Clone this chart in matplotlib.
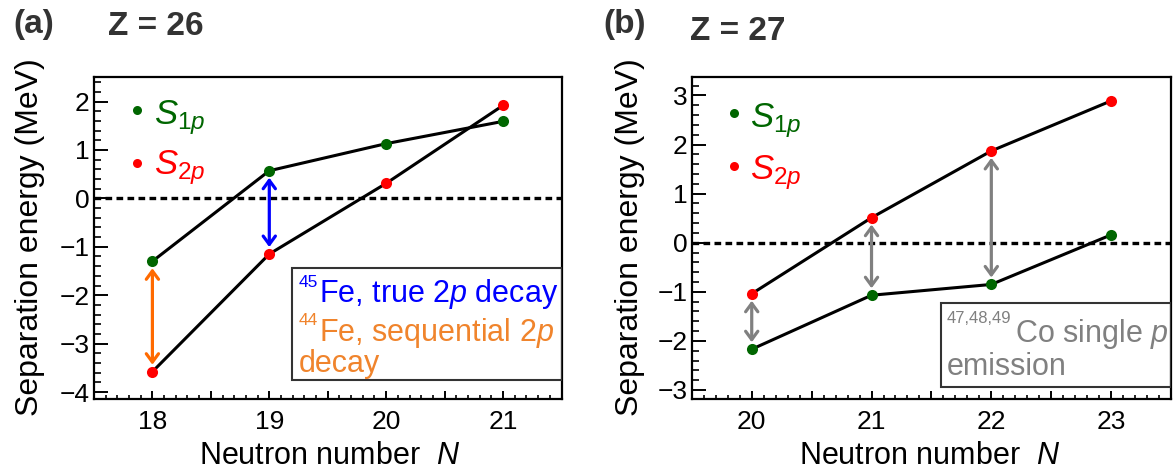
import matplotlib
matplotlib.use("Agg")
import matplotlib.pyplot as plt
from matplotlib.patches import Rectangle
from matplotlib.ticker import MultipleLocator, FuncFormatter

plt.rcParams['font.family'] = ['Liberation Sans', 'DejaVu Sans']
plt.rcParams['mathtext.fontset'] = 'custom'
plt.rcParams['mathtext.rm'] = 'Liberation Sans'
plt.rcParams['mathtext.it'] = 'Liberation Sans:italic'
plt.rcParams['mathtext.bf'] = 'Liberation Sans:bold'

# separation energies (MeV), Z = 26
N_fe = [18, 19, 20, 21]
s1p_fe = [-1.30, 0.57, 1.13, 1.59]
s2p_fe = [-3.58, -1.15, 0.31, 1.92]

# separation energies (MeV), Z = 27
N_co = [20, 21, 22, 23]
s1p_co = [-2.17, -1.07, -0.85, 0.16]
s2p_co = [-1.04, 0.51, 1.87, 2.89]

green = '#006600'
red = '#ff0000'
blue = '#0000ff'
orange_arrow = '#ff6a00'
orange_text = '#f0842c'
gray = '#808080'
dark = '#333333'

fig = plt.figure(figsize=(11.73, 4.71), dpi=100)
ax1 = fig.add_axes([0.0801, 0.1522, 0.3986, 0.6837])
ax2 = fig.add_axes([0.5898, 0.1522, 0.4085, 0.6837])


def style_axes(ax, xlim, ylim):
    ax.set_xlim(*xlim)
    ax.set_ylim(*ylim)
    for sp in ax.spines.values():
        sp.set_linewidth(1.6)
    ax.xaxis.set_major_locator(MultipleLocator(0.5))
    ax.xaxis.set_minor_locator(MultipleLocator(0.1))
    ax.yaxis.set_major_locator(MultipleLocator(1))
    ax.yaxis.set_minor_locator(MultipleLocator(0.2))
    ax.xaxis.set_major_formatter(FuncFormatter(
        lambda v, p: f'{v:.0f}' if abs(v - round(v)) < 1e-6 else ''))
    ax.tick_params(axis='x', which='major', direction='in', length=6, width=1.4,
                   labelsize=19, pad=7.5, top=False)
    ax.tick_params(axis='x', which='minor', direction='in', length=3, width=1.2, top=False)
    ax.tick_params(axis='y', which='major', direction='in', length=10, width=1.4,
                   labelsize=19, pad=3, right=False)
    ax.tick_params(axis='y', which='minor', direction='in', length=5, width=1.2, right=False)
    ax.axhline(0, color='black', lw=2.4, dashes=(2.0, 1.3), zorder=1)
    ax.set_ylabel('Separation energy (MeV)', fontsize=23)
    ax.set_xlabel('Neutron number  $N$', fontsize=22)


def draw_series(ax, N, s1p, s2p):
    ax.plot(N, s1p, color='black', lw=2.2, zorder=2)
    ax.plot(N, s2p, color='black', lw=2.2, zorder=2)
    ax.plot(N, s1p, 'o', color=green, ms=8, mec='none', zorder=4)
    ax.plot(N, s2p, 'o', color=red, ms=8, mec='none', zorder=4)


def double_arrow(ax, x, y0, y1, color):
    ax.annotate('', xy=(x, y1), xytext=(x, y0),
                arrowprops=dict(arrowstyle='<->,head_length=0.3,head_width=0.22',
                                color=color, lw=2.3, shrinkA=5, shrinkB=5,
                                mutation_scale=20),
                zorder=3)


def legend_marks(ax, xd, yg, yr, xt, bg, br):
    ax.plot([xd], [yg], 'o', color=green, ms=6.5, mec='none', transform=ax.transAxes,
            clip_on=False)
    ax.plot([xd], [yr], 'o', color=red, ms=6.5, mec='none', transform=ax.transAxes,
            clip_on=False)
    ax.text(xt, bg, '$S_{1p}$', color=green, fontsize=25, transform=ax.transAxes,
            va='baseline')
    ax.text(xt, br, '$S_{2p}$', color=red, fontsize=25, transform=ax.transAxes,
            va='baseline')


# ---- (a) Z = 26
style_axes(ax1, (17.5, 21.5), (-4.15, 2.5))
draw_series(ax1, N_fe, s1p_fe, s2p_fe)
double_arrow(ax1, N_fe[0], s2p_fe[0], s1p_fe[0], orange_arrow)
double_arrow(ax1, N_fe[1], s2p_fe[1], s1p_fe[1], blue)
legend_marks(ax1, 0.0913, 0.898, 0.735, 0.128, 0.853, 0.698)
ax1.yaxis.set_label_coords(-0.104, 0.505)
ax1.xaxis.set_label_coords(0.505, -0.128)

ax1.add_patch(Rectangle((0.4235, 0.06), 0.5765, 0.348, transform=ax1.transAxes,
                        fill=False, ec=dark, lw=1.5, zorder=5))
ax1.text(0.4385, 0.3497, '45', color=blue, fontsize=12.5, transform=ax1.transAxes,
         va='baseline', zorder=6)
ax1.text(0.481, 0.303, 'Fe, true 2$p$ decay', color=blue, fontsize=22,
         transform=ax1.transAxes, va='baseline', zorder=6)
ax1.text(0.4385, 0.231, '44', color=orange_text, fontsize=12.5, transform=ax1.transAxes,
         va='baseline', zorder=6)
ax1.text(0.481, 0.182, 'Fe, sequential 2$p$', color=orange_text, fontsize=22,
         transform=ax1.transAxes, va='baseline', zorder=6)
ax1.text(0.4385, 0.085, 'decay', color=orange_text, fontsize=22,
         transform=ax1.transAxes, va='baseline', zorder=6)

# ---- (b) Z = 27
style_axes(ax2, (19.5, 23.5), (-3.19, 3.37))
draw_series(ax2, N_co, s1p_co, s2p_co)
for n, a, b in zip(N_co[:3], s1p_co[:3], s2p_co[:3]):
    double_arrow(ax2, n, a, b, gray)
legend_marks(ax2, 0.0887, 0.888, 0.725, 0.122, 0.845, 0.684)
ax2.yaxis.set_label_coords(-0.098, 0.505)
ax2.xaxis.set_label_coords(0.497, -0.128)

ax2.add_patch(Rectangle((0.519, 0.037), 0.481, 0.263, transform=ax2.transAxes,
                        fill=False, ec=dark, lw=1.5, zorder=5))
ax2.text(0.532, 0.236, '47,48,49', color=gray, fontsize=12, transform=ax2.transAxes,
         va='baseline', zorder=6)
ax2.text(0.6745, 0.179, 'Co single $p$', color=gray, fontsize=22,
         transform=ax2.transAxes, va='baseline', zorder=6)
ax2.text(0.532, 0.0755, 'emission', color=gray, fontsize=22,
         transform=ax2.transAxes, va='baseline', zorder=6)

# panel tags
fig.text(0.011, 0.930, '(a)', fontsize=24, fontweight='bold', color=dark)
fig.text(0.092, 0.925, 'Z = 26', fontsize=24, fontweight='bold', color=dark)
fig.text(0.514, 0.930, '(b)', fontsize=24, fontweight='bold', color=dark)
fig.text(0.588, 0.915, 'Z = 27', fontsize=24, fontweight='bold', color=dark)

fig.savefig('out.png', dpi=100)
